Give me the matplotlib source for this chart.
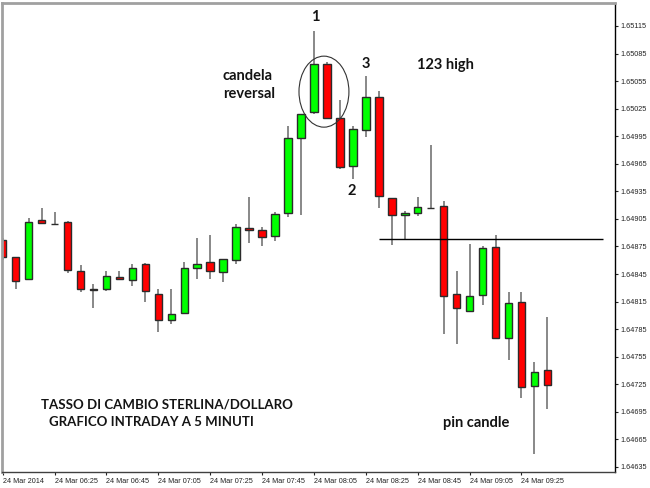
import matplotlib
matplotlib.use("Agg")
import matplotlib.pyplot as plt
from matplotlib.patches import Ellipse
import numpy as np

# ---- data (GBP/USD, 5-minute candles, 24 Mar 2014 06:05 .. 09:35) ----
opens = [1.64882, 1.64864, 1.64840, 1.64904, 1.64899, 1.64902, 1.64848, 1.64829,
         1.64829, 1.64842, 1.64839, 1.64856, 1.64823, 1.64795, 1.64803, 1.64852,
         1.64858, 1.64847, 1.64860, 1.64895, 1.64893, 1.64886, 1.64911, 1.64993,
         1.65021, 1.65074, 1.65015, 1.64963, 1.65002, 1.65038, 1.64928, 1.64909,
         1.64911, 1.64917, 1.64919, 1.64823, 1.64805, 1.64822, 1.64874, 1.64775,
         1.64815, 1.64723, 1.64740]
highs = [1.64884, 1.64864, 1.64906, 1.64917, 1.64912, 1.64903, 1.64855, 1.64834,
         1.64848, 1.64848, 1.64856, 1.64857, 1.64829, 1.64829, 1.64858, 1.64884,
         1.64887, 1.64861, 1.64899, 1.64929, 1.64896, 1.64912, 1.65006, 1.65019,
         1.65109, 1.65076, 1.65034, 1.65006, 1.65061, 1.65044, 1.64928, 1.64914,
         1.64929, 1.64985, 1.64924, 1.64848, 1.64878, 1.64875, 1.64888, 1.64825,
         1.64825, 1.64749, 1.64798]
lows = [1.64860, 1.64829, 1.64839, 1.64900, 1.64898, 1.64846, 1.64825, 1.64808,
        1.64827, 1.64839, 1.64832, 1.64815, 1.64782, 1.64791, 1.64803, 1.64840,
        1.64840, 1.64836, 1.64856, 1.64879, 1.64875, 1.64881, 1.64907, 1.64909,
        1.65019, 1.65015, 1.64959, 1.64948, 1.64994, 1.64917, 1.64877, 1.64883,
        1.64908, 1.64916, 1.64780, 1.64769, 1.64805, 1.64811, 1.64775, 1.64751,
        1.64710, 1.64649, 1.64698]
closes = [1.64864, 1.64837, 1.64902, 1.64901, 1.64899, 1.64849, 1.64829, 1.64828,
          1.64843, 1.64840, 1.64852, 1.64826, 1.64795, 1.64802, 1.64852, 1.64856,
          1.64848, 1.64861, 1.64896, 1.64893, 1.64885, 1.64910, 1.64993, 1.65019,
          1.65074, 1.65015, 1.64961, 1.65003, 1.65038, 1.64930, 1.64909, 1.64911,
          1.64918, 1.64917, 1.64821, 1.64808, 1.64821, 1.64873, 1.64775, 1.64813,
          1.64722, 1.64738, 1.64724]

x_tick_labels = ["24 Mar 2014", "24 Mar 06:25", "24 Mar 06:45", "24 Mar 07:05",
                 "24 Mar 07:25", "24 Mar 07:45", "24 Mar 08:05", "24 Mar 08:25",
                 "24 Mar 08:45", "24 Mar 09:05", "24 Mar 09:25"]
y_ticks = [1.64635, 1.64665, 1.64695, 1.64725, 1.64755, 1.64785, 1.64815, 1.64845,
           1.64875, 1.64905, 1.64935, 1.64965, 1.64995, 1.65025, 1.65055, 1.65085,
           1.65115]

support_level = 1.64883
support_start = 29
support_end = 46.3

# ---- figure ----
fig = plt.figure(figsize=(6.5, 4.88), dpi=100)
ax = fig.add_axes([2 / 650, 16 / 488, 613 / 650, 469 / 488])

n = len(opens)
idx = np.arange(n)
o = np.array(opens); h = np.array(highs); l = np.array(lows); c = np.array(closes)

ax.vlines(idx, l, h, color="#7f7f7f", lw=1.3, zorder=1)
up = c >= o
body_bottom = np.minimum(o, c)
body_height = np.abs(c - o)
colors = np.where(up, "#00ff00", "#ff0000")
ax.bar(idx, body_height, bottom=body_bottom, width=0.58, color=colors,
       edgecolor="#2b2b2b", linewidth=1.0, zorder=2)

ax.hlines(support_level, support_start, support_end, color="black", lw=1.0, zorder=3)

ax.add_patch(Ellipse((24.77, 1.650435), 3.85, 0.000773, fill=False,
                     edgecolor="#333333", lw=0.8, zorder=4))

font = dict(family="Lato", fontweight="bold", color="#141414")
ax.text(24.08, 1.65120, "1", ha="center", va="baseline", fontsize=10.5, **font)
ax.text(16.96, 1.65056, "candela", ha="left", va="baseline", fontsize=10.5, **font)
ax.text(16.96, 1.65037, "reversal", ha="left", va="baseline", fontsize=10.5, **font)
ax.text(28.01, 1.65069, "3", ha="center", va="baseline", fontsize=10.5, **font)
ax.text(31.94, 1.65068, "123 high", ha="left", va="baseline", fontsize=10.5, **font)
ax.text(26.89, 1.64931, "2", ha="center", va="baseline", fontsize=10.5, **font)
ax.text(2.93, 1.64699, "TASSO DI CAMBIO STERLINA/DOLLARO", ha="left", va="baseline",
        fontsize=9.5, **font)
ax.text(3.59, 1.64680, "GRAFICO INTRADAY A 5 MINUTI", ha="left", va="baseline",
        fontsize=9.5, **font)
ax.text(33.92, 1.64678, "pin candle", ha="left", va="baseline", fontsize=10.5, **font)

# ---- axes ----
ax.set_xlim(-0.054, 47.21)
ax.set_ylim(1.646295, 1.65140)

ax.yaxis.tick_right()
ax.set_yticks(y_ticks)
ax.set_yticklabels([f"{v:.5f}" for v in y_ticks], family="Liberation Sans", fontsize=5.2)
ax.set_xticks(np.arange(0, 41, 4))
ax.set_xticklabels(x_tick_labels, family="Liberation Sans", fontsize=5.2, ha="left")
ax.tick_params(axis="both", length=2.5, width=0.8, colors="#222222", pad=1.5)
ax.tick_params(axis="x", pad=2)

for side in ("top", "left"):
    ax.spines[side].set_color("#a0a0a0")
    ax.spines[side].set_linewidth(2)
ax.spines["right"].set_color("black")
ax.spines["right"].set_linewidth(1)
ax.spines["bottom"].set_color("#404040")
ax.spines["bottom"].set_linewidth(1)

fig.savefig("out.png", dpi=100)
